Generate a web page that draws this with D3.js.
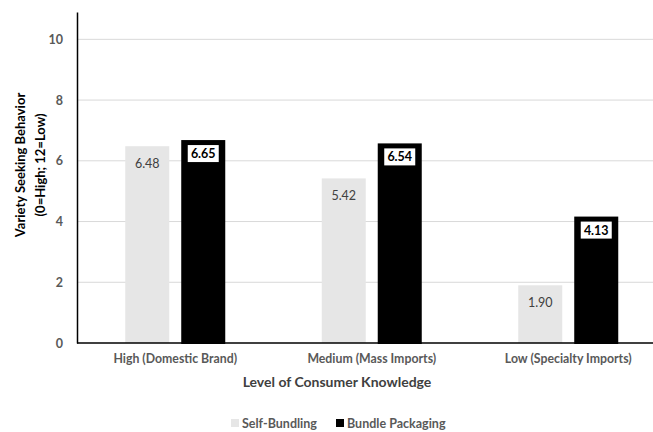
<!DOCTYPE html>
<html>
<head>
<meta charset="utf-8">
<script src="https://cdn.jsdelivr.net/npm/d3@7"></script>
<style>
  body { margin: 0; background: #fff; }
  svg text { font-family: Lato, "Open Sans", sans-serif; }
</style>
</head>
<body>
<div id="chart"></div>
<script>
const categories = ["High (Domestic Brand)", "Medium (Mass Imports)", "Low (Specialty Imports)"];
const seriesNames = ["Self-Bundling", "Bundle Packaging"];
const selfBundling = [6.48, 5.42, 1.90];
const bundlePackaging = [6.65, 6.54, 4.13];
const yTicks = [0, 2, 4, 6, 8, 10];

const W = 653, H = 432;
const left = 77, base = 343;

const svg = d3.select("#chart").append("svg")
  .attr("width", W).attr("height", H);

const y = d3.scaleLinear().domain([0, 10.9]).range([base, 12]);
const x0 = d3.scaleBand().domain(categories).range([left, 666.5]);
const x1 = d3.scaleBand().domain(seriesNames).range([0, 100]).paddingInner(0.214);

// gridlines
svg.append("g").selectAll("line")
  .data(yTicks.filter(d => d > 0))
  .enter().append("line")
  .attr("x1", left).attr("x2", W)
  .attr("y1", d => y(d)).attr("y2", d => y(d))
  .attr("stroke", "#d9d9d9").attr("stroke-width", 1);

const rows = categories.map((c, i) => ({cat: c, vals: [selfBundling[i], bundlePackaging[i]]}));

const groups = svg.selectAll(".grp").data(rows).enter().append("g")
  .attr("transform", d => "translate(" + (x0(d.cat) + x0.bandwidth() / 2 - 50) + ",0)");

// self-bundling bars
groups.append("rect")
  .attr("x", x1(seriesNames[0]))
  .attr("y", d => y(d.vals[0]))
  .attr("width", x1.bandwidth())
  .attr("height", d => base - y(d.vals[0]))
  .attr("fill", "#e6e6e6");

groups.append("text")
  .attr("x", x1(seriesNames[0]) + x1.bandwidth() / 2)
  .attr("y", d => y(d.vals[0]) + 22)
  .attr("text-anchor", "middle")
  .attr("font-size", 12.5)
  .attr("fill", "#404040")
  .text(d => d.vals[0].toFixed(2));

// bundle packaging bars
groups.append("rect")
  .attr("x", x1(seriesNames[1]) + 1)
  .attr("y", d => y(d.vals[1]))
  .attr("width", x1.bandwidth() - 2)
  .attr("height", d => base - y(d.vals[1]))
  .attr("fill", "#000")
  .attr("stroke", "#000").attr("stroke-width", 2);

groups.append("rect")
  .attr("x", x1(seriesNames[1]) + x1.bandwidth() / 2 - 15.5)
  .attr("y", d => y(d.vals[1]) + 4)
  .attr("width", 31).attr("height", 17)
  .attr("fill", "#fff");

groups.append("text")
  .attr("x", x1(seriesNames[1]) + x1.bandwidth() / 2)
  .attr("y", d => y(d.vals[1]) + 17)
  .attr("text-anchor", "middle")
  .attr("font-size", 12.5)
  .attr("font-weight", "bold")
  .attr("fill", "#000")
  .text(d => d.vals[1].toFixed(2));

// y axis
const yAxis = svg.append("g")
  .attr("transform", "translate(" + left + ",0)")
  .call(d3.axisLeft(y).tickValues(yTicks).tickSize(0).tickPadding(14));
yAxis.select(".domain").attr("stroke", "#000").attr("stroke-width", 1.5);
yAxis.selectAll("text").attr("font-size", 12.5).attr("font-weight", "bold")
  .attr("fill", "#595959").attr("font-family", "Lato, sans-serif");

// x axis
const xAxis = svg.append("g")
  .attr("transform", "translate(0," + base + ")")
  .call(d3.axisBottom(x0).tickSize(0).tickPadding(11));
xAxis.select(".domain").attr("d", "M" + left + ",0H" + W).attr("stroke", "#000").attr("stroke-width", 1.5);
xAxis.selectAll("text").attr("font-size", 12.3).attr("font-weight", "bold")
  .attr("fill", "#595959").attr("font-family", "Lato, sans-serif");

// axis titles
svg.append("text")
  .attr("x", 337).attr("y", 387)
  .attr("text-anchor", "middle")
  .attr("font-size", 14).attr("font-weight", "bold").attr("fill", "#404040")
  .text("Level of Consumer Knowledge");

const yt = svg.append("text")
  .attr("transform", "translate(25,165) rotate(-90)")
  .attr("text-anchor", "middle")
  .attr("font-size", 13).attr("font-weight", "bold").attr("fill", "#000");
yt.append("tspan").attr("x", 0).attr("dy", 0).text("Variety Seeking Behavior");
yt.append("tspan").attr("x", 0).attr("dy", 20).text("(0=High; 12=Low)");

// legend
const legendX = [231, 336];
const colors = ["#e6e6e6", "#000"];
const leg = svg.selectAll(".leg").data(seriesNames).enter().append("g")
  .attr("transform", (d, i) => "translate(" + legendX[i] + ",419)");
leg.append("rect").attr("width", 8).attr("height", 8).attr("fill", (d, i) => colors[i]);
leg.append("text").attr("x", 11).attr("y", 9)
  .attr("font-size", 12.5).attr("font-weight", "bold").attr("fill", "#595959")
  .text(d => d);
</script>
</body>
</html>
